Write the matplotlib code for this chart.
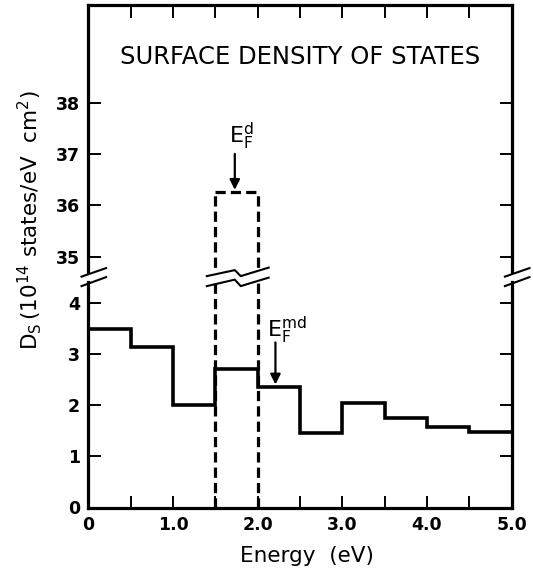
import numpy as np
import matplotlib
matplotlib.use('Agg')
import matplotlib.pyplot as plt

# step histogram of surface density of states (10^14 states / eV cm^2)
bin_edges = [0.0, 0.5, 1.0, 1.5, 2.0, 2.5, 3.0, 3.5, 4.0, 4.5, 5.0]
ds_values = [3.48, 3.14, 2.00, 2.71, 2.35, 1.45, 2.04, 1.75, 1.57, 1.47]

# dashed d-band box between 1.5 and 2.0 eV
dband_edges = [1.5, 2.0]
dband_height = 36.25

x_ticklabels = ['0', '', '1.0', '', '2.0', '', '3.0', '', '4.0', '', '5.0']
low_yticks = [0, 1, 2, 3, 4]
high_yticks = [35, 36, 37, 38]

EF_d = 1.73
EF_md = 2.21

plt.rcParams['font.family'] = 'DejaVu Sans'
W, H = 533, 573
fig = plt.figure(figsize=(W / 100, H / 100), dpi=100)

left, right = 88.3, 511.7
ax_lo = fig.add_axes([left / W, (H - 507.5) / H, (right - left) / W, 225.5 / H])
ax_hi = fig.add_axes([left / W, (H - 272) / H, (right - left) / W, 267 / H])

lw = 2.6
for ax in (ax_lo, ax_hi):
    ax.set_xlim(0, 5.0)
    for s in ax.spines.values():
        s.set_linewidth(2.3)
    ax.set_xticks(np.arange(0, 5.01, 0.5))
    ax.tick_params(direction='in', length=9, width=1.4, labelsize=12.5,
                   right=True, pad=6)

ax_lo.set_ylim(0, 4.4)
ax_hi.set_ylim(34.7, 39.9)

ax_lo.spines['top'].set_visible(False)
ax_hi.spines['bottom'].set_visible(False)
ax_lo.tick_params(top=False, bottom=True)
ax_hi.tick_params(top=True, bottom=False, labelbottom=False)

ax_lo.set_yticks(low_yticks)
ax_hi.set_yticks(high_yticks)
ax_lo.set_xticklabels(x_ticklabels)
for ax in (ax_lo, ax_hi):
    for t in ax.get_yticklabels() + ax.get_xticklabels():
        t.set_fontweight('bold')

# solid step line
ax_lo.stairs(ds_values, bin_edges, color='black', lw=lw, baseline=None)

# dashed box
dash = (0, (3.2, 1.6))
for ax in (ax_lo, ax_hi):
    ax.vlines(dband_edges, 0, dband_height, colors='black', lw=2.3,
              linestyles=dash)
ax_hi.hlines(dband_height, dband_edges[0], dband_edges[1], colors='black',
             lw=2.3, linestyles=dash)

# break marks
def px_to_lo(py):
    return (508.6 - py) / 51.3

def px_to_hi(py):
    return 35 - (py - 256) / 51.3

for x0 in (0.0, 5.0):
    xs = [x0 - 0.08, x0 + 0.21]
    ax_lo.plot(xs, [px_to_lo(287), px_to_lo(278)], color='black', lw=1.5,
               clip_on=False)
    ax_hi.plot(xs, [px_to_hi(276), px_to_hi(267.5)], color='black', lw=1.5,
               clip_on=False)

zx = [1.40, 1.73, 1.80, 2.13]
ax_lo.plot(zx, [px_to_lo(p) for p in (287, 280.5, 287, 278.5)], color='black',
           lw=1.5, clip_on=False)
ax_hi.plot(zx, [px_to_hi(p) for p in (275.5, 269.5, 275.5, 267)], color='black',
           lw=1.5, clip_on=False)

# annotations
arrow = dict(arrowstyle='-|>', color='black', lw=1.6, mutation_scale=15,
             shrinkA=0, shrinkB=0)
ax_hi.annotate('', xy=(EF_d, dband_height + 0.05), xytext=(EF_d, 37.0),
               arrowprops=arrow)
ax_hi.text(EF_d - 0.07, 37.03, r'$\mathregular{E_F^d}$', fontsize=16,
           ha='left', va='bottom')
ax_lo.annotate('', xy=(EF_md, 2.40), xytext=(EF_md, 3.22), arrowprops=arrow)
ax_lo.text(EF_md - 0.10, 3.15, r'$\mathregular{E_F^{md}}$', fontsize=16,
           ha='left', va='bottom')

ax_hi.text(2.5, 38.88, 'SURFACE DENSITY OF STATES', fontsize=17.5,
           ha='center', va='center')

fig.text(30 / W, 1 - 220 / H, r'$\mathregular{D_S\,(10^{14}\ states/eV\ \ cm^2)}$',
         rotation=90, fontsize=15.5, ha='center', va='center')
fig.text(307 / W, 1 - 556 / H, 'Energy  (eV)', fontsize=15.5,
         ha='center', va='center')

fig.savefig('out.png', dpi=100)
